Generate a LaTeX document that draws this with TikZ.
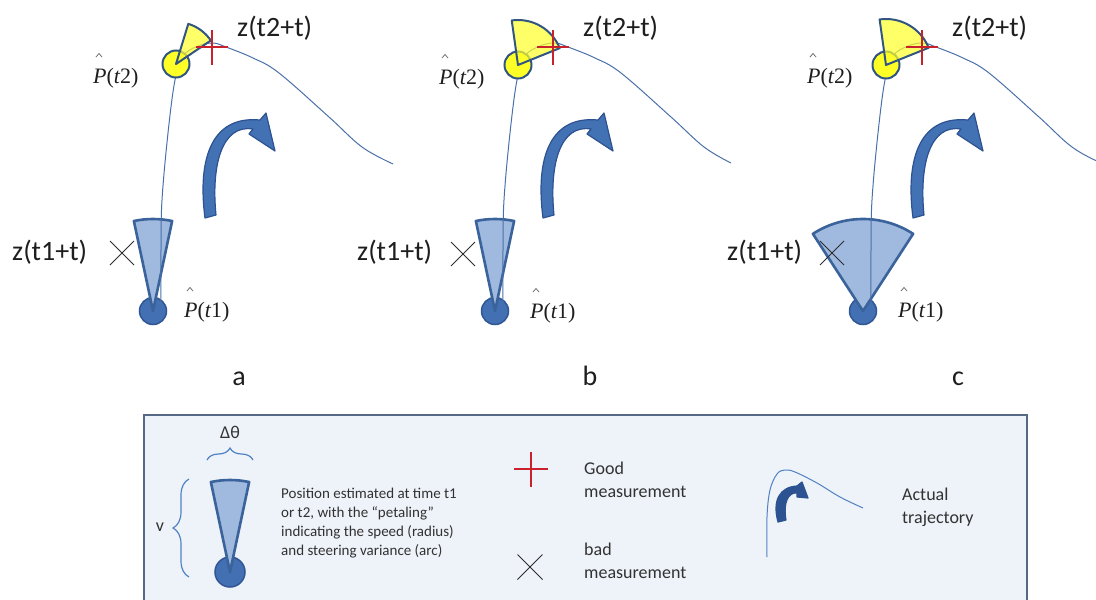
\documentclass[tikz,border=0pt]{standalone}
\usepackage{fontspec}
\setmainfont{Carlito}
\newfontfamily\tms{Liberation Serif}
\usetikzlibrary{decorations.pathreplacing}
\definecolor{trajc}{RGB}{74,112,170}
\definecolor{wedgefill}{RGB}{160,185,222}
\definecolor{wedgeline}{RGB}{58,98,155}
\definecolor{dotfill}{RGB}{66,112,178}
\definecolor{dotline}{RGB}{48,86,148}
\definecolor{yfill}{RGB}{255,255,40}
\definecolor{yline}{RGB}{50,85,130}
\definecolor{arrfill}{RGB}{66,113,180}
\definecolor{arrline}{RGB}{45,82,145}
\definecolor{crossred}{RGB}{200,35,45}
\definecolor{xblack}{RGB}{45,45,45}
\definecolor{legfill}{RGB}{238,242,249}
\definecolor{legline}{RGB}{85,105,135}
\definecolor{bracec}{RGB}{80,130,195}
\definecolor{txt}{RGB}{30,30,30}
\definecolor{ltxt}{RGB}{50,50,50}
\definecolor{hatc}{RGB}{110,110,110}
\newcommand\phat[1]{{\tms\itshape P\upshape(\itshape t\upshape #1)}}
\newcommand\hatover[1]{\draw[hatstroke] ([shift={(3,-26)}]#1.base west) -- ++(3,-3.5) -- ++(3,3.5);}
\tikzset{
  dot/.style={circle, fill=dotfill, draw=dotline, line width=1.5pt, minimum size=27pt, inner sep=0pt},
  ydot/.style={circle, fill=yfill, draw=yline, line width=2pt, minimum size=27pt, inner sep=0pt},
  wedgeshape/.style={fill=wedgefill, draw=wedgeline, line width=2.6pt, line join=round},
  ywedge/.style={fill=yfill, fill opacity=0.7, draw=yline, line width=2pt, line join=round},
  traj/.style={draw=trajc, line width=1pt},
  redx/.style={draw=crossred, line width=1.2pt},
  blackx/.style={draw=xblack, line width=1pt},
  bigarrow/.style={fill=arrfill, draw=arrline, line width=1.2pt, line join=round},
  lbl/.style={font=\fontsize{28}{28}\selectfont, text=txt, inner sep=0pt},
  plbl/.style={font=\fontsize{22}{22}\selectfont, text=txt, inner sep=0pt},
  legtxt/.style={font=\fontsize{18}{23}\selectfont, text=ltxt, inner sep=0pt, align=left},
  legbox/.style={draw=legline, fill=legfill, line width=1.5pt},
  bracestyle/.style={draw=bracec, line width=1.2pt, decorate},
  hatstroke/.style={draw=hatc, line width=0.8pt},
}
\begin{document}
\begin{tikzpicture}[x=1pt,y=-1pt]
\useasboundingbox (0,0) rectangle (1096,600);
\clip (0,0) rectangle (1096,600);

% ---------- panel a ----------
\begin{scope}[shift={(153,0)}]
  \node[dot] (Pa1) at (0,311) {};
  \path[wedgeshape] (Pa1.center) -- ++(-78:92) arc[start angle=-78,end angle=-102,radius=92] -- cycle;
  \draw[traj] plot[smooth, tension=0.6] coordinates {(8,302) (8,250) (9,200) (15,133) (22,80) (30,56) (45,46) (60,43) (73,47) (100,58) (126,73) (176,117) (209,147) (240,164)};
  \node[ydot] (Qa) at (23,64) {};
  \path[ywedge] (Qa.center) -- ++(-34:42) arc[start angle=-34,end angle=-73,radius=42] -- cycle;
  \coordinate (Ga) at (59,47);
  \draw[redx] (Ga) ++(-16,0) -- ++(32,0) (Ga) ++(0,-17) -- ++(0,35);
  \coordinate (Ba) at (-31,253);
  \draw[blackx] (Ba) ++(-12,-12) -- ++(24,24) (Ba) ++(-12,12) -- ++(24,-24);
\end{scope}
\path[bigarrow] (205,218) .. controls (198,165) and (208,115) .. (260,120) -- (266,113) -- (275,151) -- (249,134) -- (253,129) .. controls (222,124) and (211,165) .. (216,215) -- cycle;
\node[lbl, anchor=base west] (za2) at (237,36) {z(t2+t)};
\node[lbl, anchor=base west] (za1) at (12,260) {z(t1+t)};
\node[plbl, anchor=base west] (pa2) at (93,83) {\phat{2}};
\node[plbl, anchor=base west] (pa1) at (184,317) {\phat{1}};
\hatover{pa2}
\hatover{pa1}
\node[lbl, anchor=base] (la) at (239,385) {a};

% ---------- panel b ----------
\begin{scope}[shift={(495,0)}]
  \node[dot] (Pb1) at (0,311) {};
  \path[wedgeshape] (Pb1.center) -- ++(-78:92) arc[start angle=-78,end angle=-102,radius=92] -- cycle;
  \draw[traj] plot[smooth, tension=0.6] coordinates {(8,302) (8,250) (9,200) (15,133) (22,80) (30,56) (45,46) (60,43) (73,47) (100,58) (126,73) (176,117) (209,147) (236,163)};
  \node[ydot] (Qb) at (23,65) {};
  \path[ywedge] (Qb.center) -- ++(-22:45) arc[start angle=-22,end angle=-98,radius=45] -- cycle;
  \coordinate (Gb) at (58,47);
  \draw[redx] (Gb) ++(-16,0) -- ++(32,0) (Gb) ++(0,-17) -- ++(0,35);
  \coordinate (Bb) at (-32,254);
  \draw[blackx] (Bb) ++(-12,-12) -- ++(24,24) (Bb) ++(-12,12) -- ++(24,-24);
\end{scope}
\begin{scope}[shift={(338,0)}]
\path[bigarrow] (205,218) .. controls (198,165) and (208,115) .. (260,120) -- (266,113) -- (275,151) -- (249,134) -- (253,129) .. controls (222,124) and (211,165) .. (216,215) -- cycle;
\end{scope}
\node[lbl, anchor=base west] (zb2) at (583,36) {z(t2+t)};
\node[lbl, anchor=base west] (zb1) at (357,260) {z(t1+t)};
\node[plbl, anchor=base west] (pb2) at (439,84) {\phat{2}};
\node[plbl, anchor=base west] (pb1) at (530,318) {\phat{1}};
\hatover{pb2}
\hatover{pb1}
\node[lbl, anchor=base] (lb) at (590,385) {b};

% ---------- panel c ----------
\begin{scope}[shift={(863,0)}]
  \node[dot] (Pc1) at (0,311) {};
  \path[wedgeshape] (Pc1.center) -- ++(-57:92) arc[start angle=-57,end angle=-123,radius=92] -- cycle;
  \draw[traj] plot[smooth, tension=0.6] coordinates {(8,302) (8,250) (9,200) (15,133) (22,80) (30,56) (45,46) (60,43) (73,47) (100,58) (126,73) (176,117) (209,147) (240,164) (260,172)};
  \node[ydot] (Qc) at (23,65) {};
  \path[ywedge] (Qc.center) -- ++(-22:46) arc[start angle=-22,end angle=-98,radius=46] -- cycle;
  \coordinate (Gc) at (59,47);
  \draw[redx] (Gc) ++(-16,0) -- ++(32,0) (Gc) ++(0,-17) -- ++(0,35);
  \coordinate (Bc) at (-31,253);
  \draw[blackx] (Bc) ++(-12,-12) -- ++(24,24) (Bc) ++(-12,12) -- ++(24,-24);
\end{scope}
\begin{scope}[shift={(708,0)}]
\path[bigarrow] (205,218) .. controls (198,165) and (208,115) .. (260,120) -- (266,113) -- (275,151) -- (249,134) -- (253,129) .. controls (222,124) and (211,165) .. (216,215) -- cycle;
\end{scope}
\node[lbl, anchor=base west] (zc2) at (952,36) {z(t2+t)};
\node[lbl, anchor=base west] (zc1) at (727,260) {z(t1+t)};
\node[plbl, anchor=base west] (pc2) at (807,83) {\phat{2}};
\node[plbl, anchor=base west] (pc1) at (898,317) {\phat{1}};
\hatover{pc2}
\hatover{pc1}
\node[lbl, anchor=base] (lc) at (958,385) {c};

% ---------- legend ----------
\draw[legbox] (144,415) rectangle (1027,630);
\node[legtxt, anchor=base] (dth) at (230,438) {Δθ};
\draw[bracestyle, decoration={brace, amplitude=12pt}] (207,460) -- (253,460);
\draw[bracestyle, decoration={brace, amplitude=16pt}] (189,577) -- (189,479);
\node[legtxt, anchor=base] (vl) at (160,531) {v};
\node[dot, minimum size=30pt] (Lc) at (230,572) {};
\path[wedgeshape] (Lc.center) -- ++(-78:92) arc[start angle=-78,end angle=-102,radius=92] -- cycle;
\node[legtxt, font=\fontsize{15}{19}\selectfont, anchor=west] (ldesc) at (281,523)
  {Position estimated at time t1\\or t2, with the “petaling”\\indicating the speed (radius)\\and steering variance (arc)};
\coordinate (Lg) at (531,469);
\draw[redx] (Lg) ++(-17,0) -- ++(34,0) (Lg) ++(0,-17) -- ++(0,35);
\node[legtxt, anchor=west] (lgood) at (584,480) {Good\\measurement};
\coordinate (Lb) at (530,567);
\draw[blackx] (Lb) ++(-12.5,-12.5) -- ++(25,25) (Lb) ++(-12.5,12.5) -- ++(25,-25);
\node[legtxt, anchor=west] (lbad) at (584,561) {bad\\measurement};
\draw[traj, draw=bracec] plot[smooth, tension=0.6] coordinates {(767,557) (767,517) (770,490) (777,474) (785,470) (795,472) (817,483) (840,497) (863,508)};
\path[bigarrow, fill=arrline] (778,522) .. controls (772,500) and (780,487) .. (797,486) -- (802,482) -- (808,498) -- (797,497) -- (797,493) .. controls (788,492) and (783,503) .. (786,520) -- cycle;
\node[legtxt, anchor=west] (lact) at (902,507) {Actual\\trajectory};
\end{tikzpicture}
\end{document}
